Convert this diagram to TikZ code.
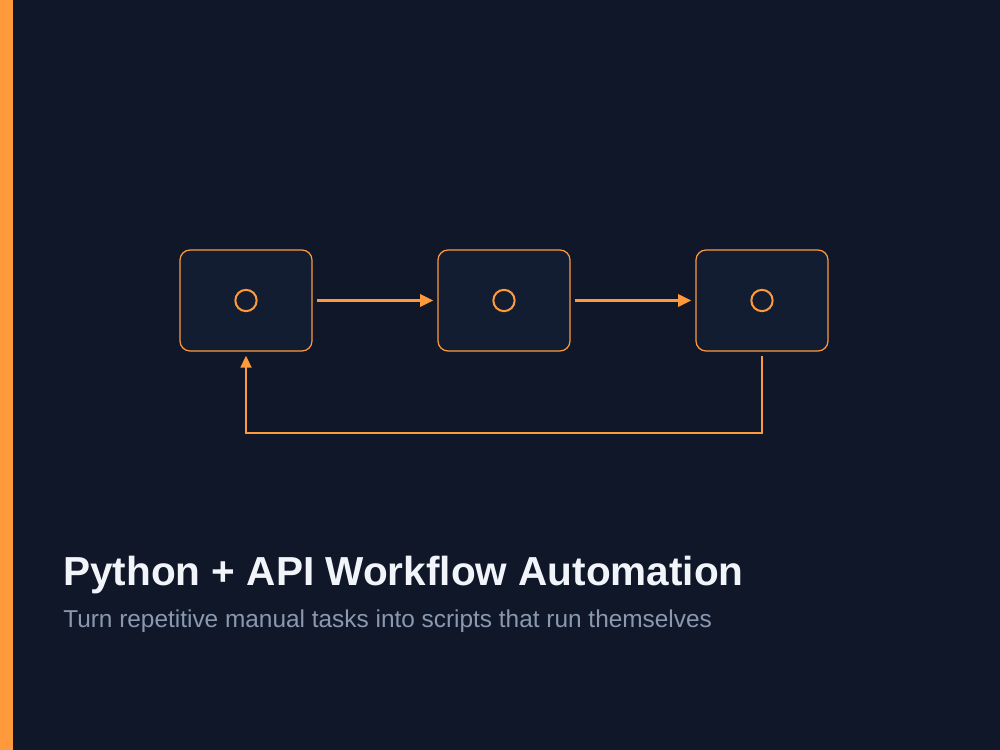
\documentclass[tikz,border=0pt]{standalone}
\usepackage{fontspec}
\setmainfont{Liberation Sans}
\usetikzlibrary{arrows.meta}
\definecolor{bg}{HTML}{0F1729}
\definecolor{boxfill}{HTML}{131D31}
\definecolor{accent}{HTML}{FF9A3C}
\definecolor{titlec}{HTML}{F1F5F9}
\definecolor{subc}{HTML}{8A99AF}
\tikzset{
  stepbox/.style={draw=accent, fill=boxfill, line width=0.9pt, rounded corners=7.5pt, minimum width=99pt, minimum height=75.75pt, inner sep=0pt},
  dot/.style={draw=accent, circle, line width=1.5pt, minimum size=16pt, inner sep=0pt},
  flow/.style={draw=accent, line width=2.4pt, -{Triangle[length=10pt,width=9pt]}},
  back/.style={draw=accent, line width=2pt, -{Triangle[length=9pt,width=8pt]}}
}
\begin{document}
\begin{tikzpicture}[x=0.75pt,y=-0.75pt]
\useasboundingbox (0,0) rectangle (1000,750);
\fill[bg] (0,0) rectangle (1000,750);
\fill[accent] (0,0) rectangle (13,750);
\node[stepbox] (b1) at (246,300.5) {};
\node[stepbox] (b2) at (504,300.5) {};
\node[stepbox] (b3) at (762,300.5) {};
\node[dot] (c1) at (b1.center) {};
\node[dot] (c2) at (b2.center) {};
\node[dot] (c3) at (b3.center) {};
\draw[flow] ([xshift=3pt]b1.east) -- ([xshift=-3pt]b2.west);
\draw[flow] ([xshift=3pt]b2.east) -- ([xshift=-3pt]b3.west);
\coordinate (r1) at (762,433);
\coordinate (r2) at (246,433);
\draw[back] ([yshift=-3pt]b3.south) -- (r1) -- (r2) -- ([yshift=-3pt]b1.south);
\node[anchor=base west, inner sep=0pt, text=titlec, font=\fontsize{30.4pt}{36pt}\selectfont\bfseries] (title) at (63,585) {Python + API Workflow Automation};
\node[anchor=base west, inner sep=0pt, text=subc, font=\fontsize{18.3pt}{22pt}\selectfont] (sub) at (63,627) {Turn repetitive manual tasks into scripts that run themselves};
\end{tikzpicture}
\end{document}
